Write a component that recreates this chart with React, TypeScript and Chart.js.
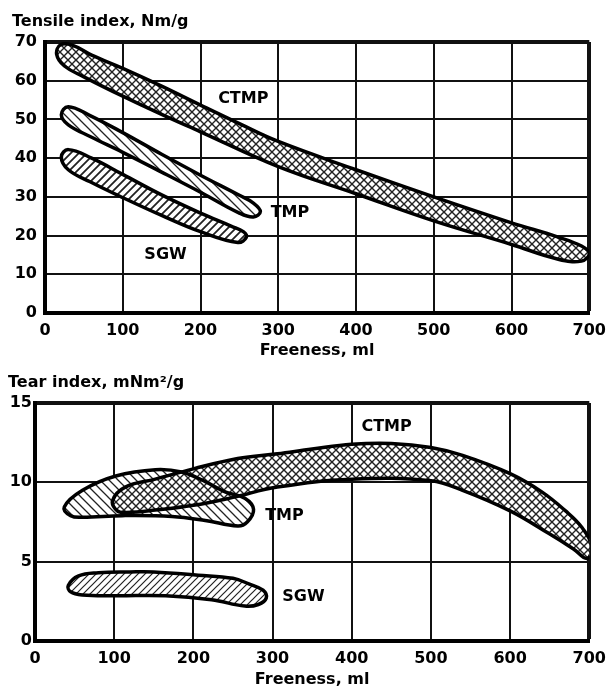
import React, { useEffect, useRef } from "react";
import { Chart, registerables } from "chart.js";

Chart.register(...registerables);

const FONT = '"DejaVu Sans", "Liberation Sans", sans-serif';

// ---------- shared x axis ----------
const freenessMin = 0;
const freenessMax = 700;
const freenessStep = 100;
const freenessTitle = "Freeness, ml";

// ---------- top panel: tensile index ----------
const tensileTitle = "Tensile index, Nm/g";
const tensileMax = 70;
const tensileStep = 10;

// closed outlines (upper edge left→right, lower edge right→left)
const tensileCtmpX = [150, 200, 250, 300, 400, 500, 600, 660, 690, 700, 690, 660, 600, 500, 400, 300, 200, 150, 100, 50, 25, 15, 20, 35, 60, 100];
const tensileCtmpY = [58.6, 53.7, 48.9, 44.3, 37.0, 30.0, 23.3, 19.6, 17.3, 15.4, 13.4, 13.9, 17.7, 23.8, 30.8, 37.8, 46.8, 51.3, 56.0, 61.0, 63.8, 66.8, 69.3, 69.2, 66.6, 63.2];

const tensileTmpX = [100, 150, 200, 250, 268, 277, 268, 250, 200, 150, 100, 58, 30, 21, 30, 58];
const tensileTmpY = [46.6, 41.0, 35.6, 30.4, 28.4, 26.2, 24.8, 25.8, 31.2, 36.4, 41.5, 45.6, 48.6, 51.2, 53.3, 51.0];

const tensileSgwX = [100, 150, 200, 240, 255, 259, 248, 200, 150, 100, 58, 30, 21, 30, 60];
const tensileSgwY = [35.8, 30.5, 25.8, 22.4, 21.0, 19.6, 18.2, 21.0, 25.2, 29.8, 33.9, 37.0, 40.3, 42.2, 40.0];

const tensileLabelText = ["CTMP", "TMP", "SGW"];
const tensileLabelX = [255, 315, 155];
const tensileLabelY = [55.3, 25.8, 15];

// ---------- bottom panel: tear index ----------
const tearTitle = "Tear index, mNm\u00B2/g";
const tearMax = 15;
const tearStep = 5;

const tearCtmpX = [256, 306, 350, 400, 450, 500, 540, 600, 640, 670, 690, 703, 697, 680, 648, 600, 540, 500, 400, 306, 250, 200, 152, 115, 104, 98, 114, 152, 200];
const tearCtmpY = [11.5, 11.8, 12.1, 12.4, 12.45, 12.2, 11.7, 10.55, 9.4, 8.2, 7.2, 6.0, 5.2, 5.8, 6.8, 8.2, 9.5, 10.1, 10.2, 9.7, 9.05, 8.55, 8.25, 8.1, 8.2, 8.85, 9.7, 10.2, 10.85];

const tearTmpX = [152, 185, 215, 240, 265, 276, 268, 256, 215, 173, 110, 60, 45, 37, 60, 102];
const tearTmpY = [10.8, 10.65, 10.05, 9.4, 9.0, 8.3, 7.5, 7.25, 7.6, 7.85, 7.9, 7.8, 7.9, 8.45, 9.5, 10.4];

const tearSgwX = [150, 206, 250, 270, 288, 292, 282, 265, 223, 165, 100, 60, 45, 42, 55, 80, 120];
const tearSgwY = [4.35, 4.15, 3.95, 3.6, 3.2, 2.7, 2.3, 2.2, 2.6, 2.85, 2.85, 2.9, 3.1, 3.5, 4.1, 4.3, 4.35];

const tearLabelText = ["CTMP", "TMP", "SGW"];
const tearLabelX = [444, 315, 339];
const tearLabelY = [13.5, 7.9, 2.8];

// ---------- helpers ----------
function hatch(dirs: string[], n: number, lw: number, color: string, bg: string | null) {
  const c = document.createElement("canvas");
  c.width = n;
  c.height = n;
  const g = c.getContext("2d")!;
  if (bg) {
    g.fillStyle = bg;
    g.fillRect(0, 0, n, n);
  }
  g.strokeStyle = color;
  g.lineWidth = lw;
  for (const d of dirs) {
    g.beginPath();
    if (d === "/") {
      g.moveTo(0, n); g.lineTo(n, 0);
      g.moveTo(-n / 2, n / 2); g.lineTo(n / 2, -n / 2);
      g.moveTo(n / 2, n * 1.5); g.lineTo(n * 1.5, n / 2);
    } else {
      g.moveTo(0, 0); g.lineTo(n, n);
      g.moveTo(-n / 2, n / 2); g.lineTo(n / 2, n * 1.5);
      g.moveTo(n / 2, -n / 2); g.lineTo(n * 1.5, n / 2);
    }
    g.stroke();
  }
  return g.createPattern(c, "repeat");
}

type Band = { name: string; xs: number[]; ys: number[]; fill: any };

type PanelSpec = {
  title: string;
  yMax: number;
  yStep: number;
  bands: Band[];
  labels: { text: string[]; x: number[]; y: number[] };
  padLeft: number;
  padRight: number;
  yAxisWidth: number;
  yTickPad: number;
  titlePadTop: number;
  titlePadBottom: number;
  xAxisHeight: number;
  xTitlePadBottom: number;
};

// make each band outline a smooth closed curve
const closedLoopPlugin = {
  id: "closedLoop",
  afterUpdate(chart: any) {
    chart.getSortedVisibleDatasetMetas().forEach((meta: any) => {
      const line = meta.dataset;
      if (!line) return;
      line._loop = true;
      line._fullLoop = true;
      delete line._segments;
      delete line._path;
      line._pointsUpdated = false;
    });
  },
};

function makeChart(canvas: HTMLCanvasElement, spec: PanelSpec) {
  const labelPlugin = {
    id: "bandLabels",
    afterDatasetsDraw(chart: any) {
      const { ctx, scales } = chart;
      ctx.save();
      ctx.font = `bold 16px ${FONT}`;
      ctx.fillStyle = "#000";
      ctx.textAlign = "center";
      ctx.textBaseline = "middle";
      spec.labels.text.forEach((t, i) => {
        ctx.fillText(t, scales.x.getPixelForValue(spec.labels.x[i]), scales.y.getPixelForValue(spec.labels.y[i]));
      });
      ctx.restore();
    },
  };
  const tickFont = { family: FONT, size: 16, weight: "bold" as const };
  return new Chart(canvas, {
    type: "scatter",
    data: {
      datasets: spec.bands.map((b) => ({
        label: b.name,
        data: b.xs.map((x, i) => ({ x, y: b.ys[i] })),
        showLine: true,
        fill: "shape",
        tension: 0.4,
        borderColor: "#000",
        borderWidth: 3.5,
        backgroundColor: b.fill,
        pointRadius: 0,
        pointHoverRadius: 0,
        borderJoinStyle: "round",
      })) as any,
    },
    options: {
      animation: false,
      responsive: false,
      devicePixelRatio: 1,
      events: [],
      layout: { padding: { left: spec.padLeft, right: spec.padRight, top: 0, bottom: 0 } },
      plugins: {
        legend: { display: false },
        tooltip: { enabled: false },
        filler: { drawTime: "beforeDatasetsDraw" },
        title: {
          display: true,
          text: spec.title,
          align: "start",
          color: "#000",
          font: tickFont,
          padding: { top: spec.titlePadTop, bottom: spec.titlePadBottom },
        },
      },
      scales: {
        x: {
          type: "linear",
          min: freenessMin,
          max: freenessMax,
          ticks: { stepSize: freenessStep, color: "#000", font: tickFont, padding: 8 },
          grid: {
            color: "#111",
            drawTicks: false,
            lineWidth: (c: any) => (c.tick && c.tick.value === freenessMax ? 4 : 2),
          },
          border: { display: true, color: "#000", width: 4 },
          title: {
            display: true,
            text: freenessTitle,
            color: "#000",
            font: tickFont,
            padding: { top: 0, bottom: spec.xTitlePadBottom },
          },
          afterFit: (s: any) => {
            s.height = spec.xAxisHeight;
          },
        },
        y: {
          type: "linear",
          min: 0,
          max: spec.yMax,
          ticks: { stepSize: spec.yStep, color: "#000", font: tickFont, padding: spec.yTickPad },
          grid: {
            color: "#111",
            drawTicks: false,
            lineWidth: (c: any) => (c.tick && c.tick.value === spec.yMax ? 4 : 2),
          },
          border: { display: true, color: "#000", width: 4 },
          afterFit: (s: any) => {
            s.width = spec.yAxisWidth;
          },
        },
      },
    } as any,
    plugins: [closedLoopPlugin, labelPlugin],
  });
}

export default function App() {
  const topRef = useRef<HTMLCanvasElement>(null);
  const botRef = useRef<HTMLCanvasElement>(null);

  useEffect(() => {
    const cross = (n: number) => hatch(["/", "\\"], n, 1.4, "#222", "#fff");
    const top = makeChart(topRef.current!, {
      title: tensileTitle,
      yMax: tensileMax,
      yStep: tensileStep,
      bands: [
        { name: "CTMP", xs: tensileCtmpX, ys: tensileCtmpY, fill: cross(8) },
        { name: "TMP", xs: tensileTmpX, ys: tensileTmpY, fill: hatch(["\\"], 10, 1.3, "#222", "#fff") },
        { name: "SGW", xs: tensileSgwX, ys: tensileSgwY, fill: hatch(["/"], 8, 1.8, "#222", "#fff") },
      ],
      labels: { text: tensileLabelText, x: tensileLabelX, y: tensileLabelY },
      padLeft: 12,
      padRight: 23,
      yAxisWidth: 33,
      yTickPad: 8,
      titlePadTop: 12.4,
      titlePadBottom: 10.4,
      xAxisHeight: 49,
      xTitlePadBottom: 1.4,
    });
    const bot = makeChart(botRef.current!, {
      title: tearTitle,
      yMax: tearMax,
      yStep: tearStep,
      bands: [
        { name: "CTMP", xs: tearCtmpX, ys: tearCtmpY, fill: cross(8) },
        { name: "TMP", xs: tearTmpX, ys: tearTmpY, fill: hatch(["\\"], 9, 1.3, "#222", "#fff") },
        { name: "SGW", xs: tearSgwX, ys: tearSgwY, fill: hatch(["/"], 7, 1.2, "#222", "#fff") },
      ],
      labels: { text: tearLabelText, x: tearLabelX, y: tearLabelY },
      padLeft: 8,
      padRight: 19,
      yAxisWidth: 27,
      yTickPad: 3,
      titlePadTop: 10.9,
      titlePadBottom: 10.9,
      xAxisHeight: 50,
      xTitlePadBottom: 1.9,
    });
    return () => {
      top.destroy();
      bot.destroy();
    };
  }, []);

  return (
    <div style={{ position: "absolute", left: 0, top: 0, width: 614, height: 691, background: "#fff" }}>
      <canvas ref={topRef} width={614} height={362} style={{ position: "absolute", left: 0, top: 0, width: 614, height: 362 }} />
      <canvas ref={botRef} width={614} height={329} style={{ position: "absolute", left: 0, top: 362, width: 614, height: 329 }} />
    </div>
  );
}
